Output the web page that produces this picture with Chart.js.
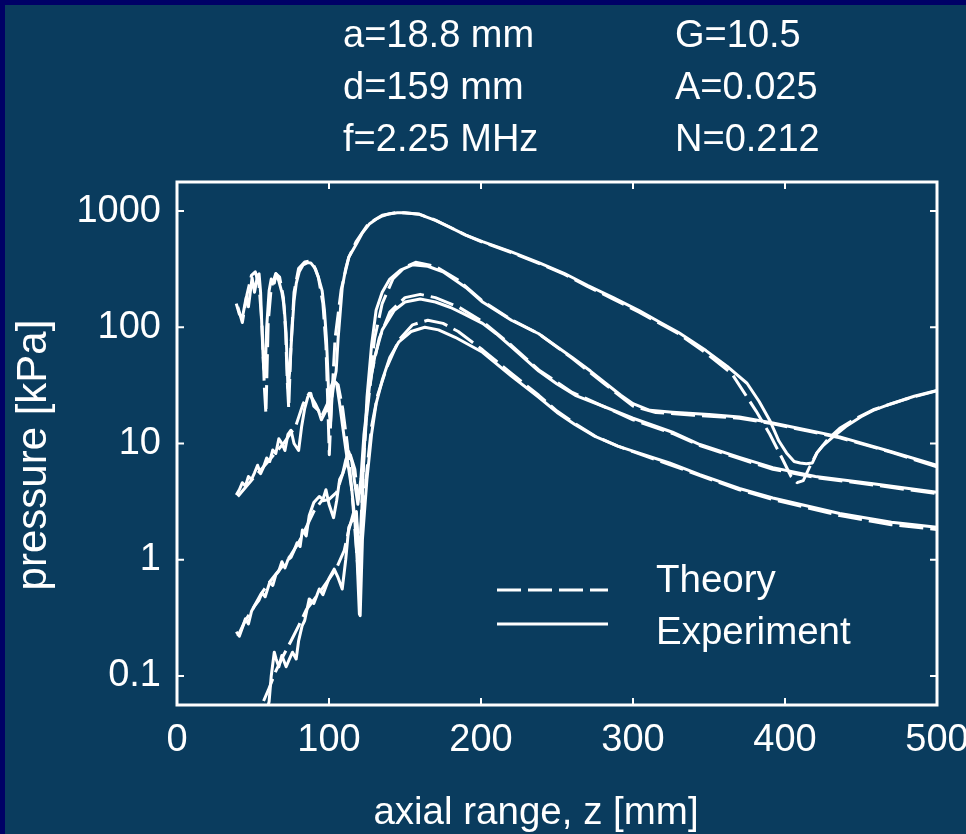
<!DOCTYPE html>
<html>
<head>
<meta charset="utf-8">
<script src="https://cdn.jsdelivr.net/npm/chart.js@4.4.1/dist/chart.umd.min.js"></script>
<style>
  html, body { margin: 0; padding: 0; background: #000066; }
  canvas { display: block; }
</style>
</head>
<body>
<canvas id="pressureChart" width="966" height="834"></canvas>
<script>
// fundamental
const fundExpZ = [39, 41, 43, 45.5, 47, 49.4, 51, 52, 53, 54, 55, 56, 57, 58, 59, 60.6, 62, 64, 65.2, 67, 69, 70.5, 71.8, 73, 74, 75.8, 77, 78.5, 80.4, 83, 86, 88, 91, 93, 95.5, 97, 98.3, 99.3, 100.2, 101, 102, 103.5, 104.7, 106, 108.7, 111, 113, 118, 122, 126.5, 131, 135, 140, 145, 150, 159, 170, 180, 190, 201, 220, 238, 255, 270, 287, 304, 318, 330, 348, 362, 375, 383, 390, 396, 401, 406, 410, 414, 418, 421, 425, 432, 440, 450, 458, 470, 485, 500];
const fundExpP = [160, 130, 121, 180, 150, 267, 200, 237, 280, 288, 200, 88, 45, 40, 100, 206, 260, 240, 288, 250, 200, 150, 88, 30, 40, 100, 170, 240, 300, 345, 360, 358, 320, 270, 206, 140, 80, 40, 18, 15, 25, 35, 42, 80, 220, 320, 400, 521, 650, 773, 850, 906, 950, 968, 965, 940, 830, 720, 620, 545, 445, 360, 290, 230, 180, 139, 110, 90, 63, 46, 33, 23, 15.8, 10.5, 8.3, 7, 6.8, 6.7, 6.8, 8.3, 9.6, 11.5, 14, 17, 19.3, 22, 25.5, 28.6];
const fundThZ = [40, 43, 46, 49, 51.5, 54, 56, 57.5, 58.5, 60, 62, 65, 67.5, 70, 71.5, 72.5, 73.5, 75, 77, 80, 84, 87, 90, 93, 96, 98, 99.3, 100.2, 101.5, 104, 108, 113, 118, 126, 135, 145, 159, 170, 180, 190, 201, 220, 238, 255, 270, 287, 304, 330, 348, 365, 381, 390, 398, 404, 408, 412, 416, 421, 428, 436, 447, 458, 479, 500];
const fundThP = [150, 110, 190, 280, 300, 230, 100, 30, 18, 110, 220, 290, 270, 180, 90, 35, 20, 70, 200, 320, 365, 370, 340, 270, 160, 70, 20, 8, 20, 80, 210, 400, 550, 780, 920, 975, 945, 835, 722, 620, 540, 440, 355, 285, 225, 175, 135, 88, 60, 40, 19, 12, 7.5, 5.2, 4.6, 4.8, 6.2, 8.3, 10.8, 13.5, 16.5, 19.5, 24, 28.5];

// second harmonic
const h2ExpZ = [39, 41, 43, 45, 47, 49, 51, 53, 55, 57, 59, 61, 63, 65, 67, 69, 71, 73, 75, 77, 80, 82, 84, 86, 88, 90, 93, 95, 97, 99, 101, 103, 105, 107, 109, 111, 113, 115, 117, 118.5, 120, 121, 122.5, 125, 128, 131, 135, 140, 147, 155, 165, 175, 190, 201, 220, 238, 250, 260, 272, 282, 292, 300, 311, 326, 350, 370, 392, 415, 436, 470, 500];
const h2ExpP = [3.6, 4.0, 4.6, 4.3, 5.2, 4.9, 5.6, 6.5, 5.5, 6.3, 7.5, 7.0, 8.8, 8.2, 11, 10, 8.7, 12, 13, 10, 8.7, 14, 20, 25, 27, 21, 19.3, 16, 18, 20.5, 30, 35, 33, 22, 14, 9, 6, 4, 2.2, 1.0, 0.34, 1.5, 6, 25, 70, 140, 200, 260, 310, 345, 335, 300, 220, 165, 115, 88, 68, 55, 42, 33, 26, 22, 19.3, 18.6, 17.8, 16.9, 15, 13, 11.4, 8.5, 6.5];
const h2ThZ = [40, 50, 60, 70, 78, 83, 87, 91, 95, 99, 103, 106, 109, 112, 115, 117.5, 119.5, 121, 123, 126, 130, 135, 142, 150, 157, 170, 185, 201, 220, 238, 260, 282, 300, 315, 340, 370, 392, 415, 436, 470, 500];
const h2ThP = [3.5, 5, 7, 10, 14, 22, 27, 22, 17, 22, 34, 32, 20, 10, 4, 1.5, 0.7, 2, 8, 30, 80, 160, 260, 330, 362, 335, 255, 168, 116, 88, 54, 32, 21, 18.5, 17.5, 16.5, 14.8, 12.8, 11.2, 8.4, 6.3];

// third harmonic
const h3ExpZ = [39, 41, 43, 45, 47, 49, 51, 54, 56, 58, 61, 63, 65, 67, 69, 71, 73, 75, 77, 79, 81, 82.5, 85, 87, 90, 93.6, 96, 98, 100, 103, 105, 107, 109, 111, 113, 115, 117, 119, 121, 123, 126.5, 130, 135, 143, 150, 160, 170, 180, 190, 201, 210, 220, 230, 238, 250, 262, 282, 300, 326, 344, 370, 392, 420, 458, 500];
const h3ExpP = [0.24, 0.22, 0.26, 0.31, 0.28, 0.36, 0.40, 0.45, 0.52, 0.48, 0.64, 0.60, 0.74, 0.80, 0.96, 0.85, 1.0, 1.05, 1.2, 1.4, 1.3, 1.8, 1.6, 2.4, 3.1, 3.5, 3.3, 4.0, 3.0, 2.3, 3.2, 4.9, 5.5, 7.2, 8.5, 7.0, 4.5, 3.0, 5, 12, 30, 55, 95, 140, 165, 175, 165, 148, 128, 108, 88, 68, 52, 42, 32.5, 26, 20.5, 16.5, 12.5, 9.8, 7.6, 6.2, 5.2, 4.5, 3.8];
const h3ThZ = [40, 45, 50, 55, 60, 65, 70, 75, 80, 85, 90, 95, 100, 105, 110, 114, 117, 119, 121, 124, 128, 133, 140, 150, 160, 170, 185, 201, 220, 238, 260, 282, 300, 326, 344, 370, 392, 420, 458, 500];
const h3ThP = [0.22, 0.3, 0.38, 0.5, 0.62, 0.75, 0.9, 1.1, 1.4, 1.9, 2.6, 3.2, 3.3, 3.8, 6, 8, 6, 3.5, 4, 14, 40, 80, 135, 180, 192, 180, 150, 112, 70, 43, 27.5, 20.5, 16, 12.2, 9.6, 7.4, 6.0, 5.1, 4.4, 3.7];

// fourth harmonic
const h4ExpZ = [57, 60.6, 62, 64, 65.2, 67, 69, 71.8, 74, 76, 78.4, 80, 82.3, 84, 87, 90, 93.6, 96, 100, 103.4, 106, 108.7, 111, 113, 116, 118, 119.5, 120.5, 122, 125, 128, 131, 135, 140, 146, 154, 163, 172, 183, 201, 220, 238, 250, 262, 275, 290, 300, 324, 344, 370, 392, 436, 470, 500];
const h4ExpP = [0.04, 0.06, 0.1, 0.16, 0.14, 0.12, 0.15, 0.12, 0.14, 0.16, 0.14, 0.2, 0.27, 0.3, 0.46, 0.42, 0.56, 0.5, 0.69, 0.83, 0.7, 0.56, 1.0, 1.9, 2.3, 2.6, 1.2, 0.33, 1.5, 5, 12, 22, 35, 55, 75, 92, 100, 95, 82, 61, 38, 25, 18.5, 14.5, 11.5, 9.5, 8.6, 6.8, 5.4, 4.1, 3.4, 2.5, 2.1, 1.9];
const h4ThZ = [40, 50, 56, 60, 65, 70, 75, 80, 85, 90, 95, 100, 105, 110, 113, 116, 118, 120, 122, 125, 128, 132, 138, 146, 155, 165, 175, 185, 201, 220, 238, 250, 262, 275, 290, 300, 324, 344, 370, 392, 436, 470, 500];
const h4ThP = [0.045, 0.05, 0.057, 0.075, 0.11, 0.15, 0.2, 0.27, 0.37, 0.45, 0.55, 0.68, 0.85, 1.2, 1.8, 2.5, 2.2, 1.2, 2, 6, 14, 26, 45, 78, 105, 115, 108, 92, 64, 40, 26, 19, 14.8, 11.6, 9.5, 8.5, 6.6, 5.3, 4.0, 3.3, 2.4, 2.0, 1.82];

const yTicks = [0.1, 1, 10, 100, 1000];
const headerLeft = ['a=18.8 mm', 'd=159 mm', 'f=2.25 MHz'];
const headerRight = ['G=10.5', 'A=0.025', 'N=0.212'];
const legendLabels = ['Theory', 'Experiment'];
const xTitle = 'axial range, z [mm]';
const yTitle = 'pressure [kPa]';

const FONT = '"Liberation Sans", Arial, Helvetica, sans-serif';
const NAVY = '#000066';
const BG = '#0a3c5e';
const WHITE = '#ffffff';
const DASH = [24, 7];

function pts(zs, ps) {
  return zs.map((z, i) => ({ x: z, y: ps[i] }));
}

function series(label, zs, ps, dashed) {
  return {
    label,
    data: pts(zs, ps),
    borderColor: WHITE,
    borderWidth: 3,
    borderDash: dashed ? DASH : [],
    borderJoinStyle: 'round',
    pointRadius: 0,
    tension: 0,
    fill: false
  };
}

const decor = {
  id: 'decor',
  beforeDraw(chart) {
    const c = chart.ctx;
    c.save();
    c.fillStyle = NAVY;
    c.fillRect(0, 0, chart.width, chart.height);
    c.fillStyle = BG;
    c.fillRect(5, 5, chart.width - 5, chart.height - 5);
    c.restore();
  },
  afterDraw(chart) {
    const { ctx: c, chartArea: a, scales: { x, y } } = chart;
    c.save();
    c.strokeStyle = WHITE;
    c.lineWidth = 3;
    c.strokeRect(a.left, a.top, a.right - a.left, a.bottom - a.top);

    // inward tick marks on all four sides
    c.lineWidth = 2;
    c.beginPath();
    x.ticks.forEach((t) => {
      const px = x.getPixelForValue(t.value);
      c.moveTo(px, a.bottom); c.lineTo(px, a.bottom - 7);
      c.moveTo(px, a.top); c.lineTo(px, a.top + 7);
    });
    y.ticks.forEach((t) => {
      const py = y.getPixelForValue(t.value);
      c.moveTo(a.left, py); c.lineTo(a.left + 7, py);
      c.moveTo(a.right, py); c.lineTo(a.right - 7, py);
    });
    c.stroke();

    c.fillStyle = WHITE;
    c.textAlign = 'left';
    c.textBaseline = 'alphabetic';

    // parameters above the plot
    c.font = '38px ' + FONT;
    headerLeft.forEach((s, i) => c.fillText(s, 343, 47 + i * 52));
    headerRight.forEach((s, i) => c.fillText(s, 675, 47 + i * 52));

    // axis titles
    c.textAlign = 'center';
    c.font = '38.5px ' + FONT;
    c.fillText(xTitle, 536, 824);
    c.save();
    c.translate(34, 455);
    c.rotate(-Math.PI / 2);
    c.textBaseline = 'middle';
    c.font = '42px ' + FONT;
    c.fillText(yTitle, 0, 0);
    c.restore();

    // legend
    c.textAlign = 'left';
    c.lineWidth = 3;
    c.setLineDash(DASH);
    c.beginPath(); c.moveTo(497, 590); c.lineTo(608, 590); c.stroke();
    c.setLineDash([]);
    c.beginPath(); c.moveTo(497, 624); c.lineTo(608, 624); c.stroke();
    c.font = '38.5px ' + FONT;
    c.fillText(legendLabels[0], 656, 592);
    c.fillText(legendLabels[1], 656, 644);
    c.restore();
  }
};

const chart = new Chart(document.getElementById('pressureChart'), {
  type: 'line',
  data: {
    datasets: [
      series('Theory fundamental', fundThZ, fundThP, true),
      series('Experiment fundamental', fundExpZ, fundExpP, false),
      series('Theory 2nd', h2ThZ, h2ThP, true),
      series('Experiment 2nd', h2ExpZ, h2ExpP, false),
      series('Theory 3rd', h3ThZ, h3ThP, true),
      series('Experiment 3rd', h3ExpZ, h3ExpP, false),
      series('Theory 4th', h4ThZ, h4ThP, true),
      series('Experiment 4th', h4ExpZ, h4ExpP, false)
    ]
  },
  options: {
    responsive: false,
    animation: false,
    layout: { padding: { left: 5, top: 182, right: 29, bottom: 0 } },
    plugins: { legend: { display: false }, tooltip: { enabled: false } },
    scales: {
      x: {
        type: 'linear',
        min: 0,
        max: 500,
        grid: { display: false, drawTicks: false },
        border: { display: false },
        ticks: { stepSize: 100, color: WHITE, padding: 13, maxRotation: 0, font: { family: FONT, size: 38 } },
        afterFit: (s) => { s.height = 129; s.paddingLeft = 0; s.paddingRight = 0; }
      },
      y: {
        type: 'logarithmic',
        min: Math.pow(10, -1.25),
        max: Math.pow(10, 3.25),
        grid: { display: false, drawTicks: false },
        border: { display: false },
        afterBuildTicks: (s) => { s.ticks = yTicks.map((v) => ({ value: v })); },
        ticks: { color: WHITE, padding: 16, font: { family: FONT, size: 38 }, callback: (v) => String(v) },
        afterFit: (s) => { s.width = 172; s.paddingTop = 0; s.paddingBottom = 0; }
      }
    }
  },
  plugins: [decor]
});
</script>
</body>
</html>
